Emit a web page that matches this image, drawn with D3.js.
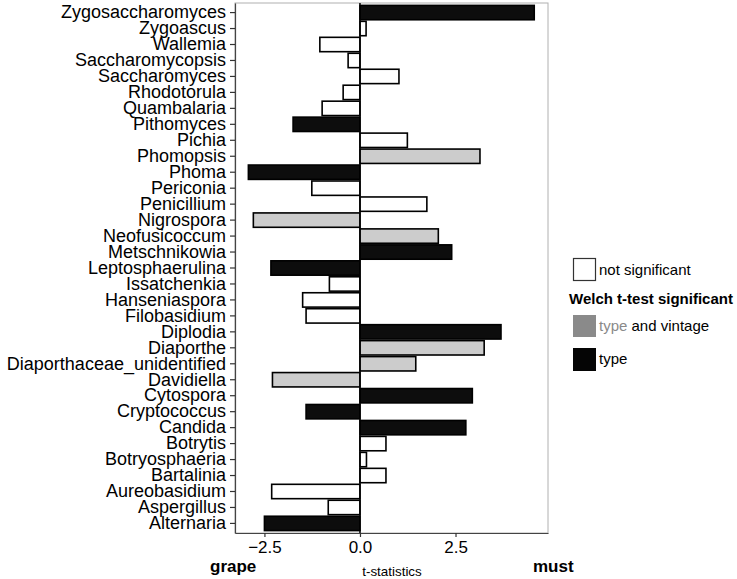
<!DOCTYPE html>
<html>
<head>
<meta charset="utf-8">
<script src="https://cdn.jsdelivr.net/npm/d3@7"></script>
<style>
  body { margin: 0; background: #fff; }
  text { font-family: "Liberation Sans", Arial, sans-serif; }
</style>
</head>
<body>
<div id="chart"></div>
<script>
// ---------------- data ----------------
var genera = ["Zygosaccharomyces", "Zygoascus", "Wallemia", "Saccharomycopsis", "Saccharomyces",
  "Rhodotorula", "Quambalaria", "Pithomyces", "Pichia", "Phomopsis", "Phoma", "Periconia",
  "Penicillium", "Nigrospora", "Neofusicoccum", "Metschnikowia", "Leptosphaerulina", "Issatchenkia",
  "Hanseniaspora", "Filobasidium", "Diplodia", "Diaporthe", "Diaporthaceae_unidentified", "Davidiella",
  "Cytospora", "Cryptococcus", "Candida", "Botrytis", "Botryosphaeria", "Bartalinia",
  "Aureobasidium", "Aspergillus", "Alternaria"];
var tstat = [4.56, 0.16, -1.05, -0.31, 1.02,
  -0.44, -0.99, -1.75, 1.24, 3.14, -2.92, -1.26,
  1.75, -2.79, 2.05, 2.40, -2.33, -0.80,
  -1.50, -1.41, 3.69, 3.25, 1.46, -2.29,
  2.94, -1.41, 2.77, 0.68, 0.17, 0.68,
  -2.31, -0.83, -2.50];
// ns = not significant, tv = type and vintage, t = type
var signif = ["t", "ns", "ns", "ns", "ns",
  "ns", "ns", "t", "ns", "tv", "t", "ns",
  "ns", "tv", "tv", "t", "t", "ns",
  "ns", "ns", "t", "tv", "tv", "tv",
  "t", "t", "t", "ns", "ns", "ns",
  "ns", "ns", "t"];
var xTicks = [-2.5, 0.0, 2.5];

var data = genera.map(function(g, i) { return {genus: g, t: tstat[i], sig: signif[i]}; });

// ---------------- layout ----------------
var W = 737, H = 579;
var panel = {left: 235, right: 548, top: 3, bottom: 533};

var svg = d3.select("#chart").append("svg").attr("width", W).attr("height", H);

var x = d3.scaleLinear().domain([-3.27, 4.92]).range([panel.left, panel.right]);
var y = d3.scaleBand().domain(genera).range([panel.top, panel.bottom])
  .paddingInner(0.1).paddingOuter(0.15);

var fillCol = {ns: "#ffffff", tv: "#cccccc", t: "#0d0d0d"};

// panel border (light)
svg.append("rect")
  .attr("x", panel.left).attr("y", panel.top)
  .attr("width", panel.right - panel.left).attr("height", panel.bottom - panel.top)
  .attr("fill", "none").attr("stroke", "#b0b0b0").attr("stroke-width", 1);

// bars
svg.selectAll("rect.bar").data(data).enter()
  .append("rect").attr("class", "bar")
  .attr("x", function(d) { return x(Math.min(0, d.t)); })
  .attr("y", function(d) { return y(d.genus); })
  .attr("width", function(d) { return Math.abs(x(d.t) - x(0)); })
  .attr("height", y.bandwidth())
  .attr("fill", function(d) { return fillCol[d.sig]; })
  .attr("stroke", "#000").attr("stroke-width", 1.6);

// zero line
svg.append("line")
  .attr("x1", x(0)).attr("x2", x(0))
  .attr("y1", panel.top).attr("y2", panel.bottom)
  .attr("stroke", "#000").attr("stroke-width", 1.5);

// axes
var yAxis = svg.append("g").attr("transform", "translate(" + panel.left + ",0)")
  .call(d3.axisLeft(y).tickSize(5).tickSizeOuter(0).tickPadding(4));
yAxis.select(".domain").attr("stroke", "#444").attr("stroke-width", 1.2);
yAxis.selectAll(".tick line").attr("stroke", "#333").attr("stroke-width", 1.2);
yAxis.selectAll("text").style("font-size", "18px").attr("fill", "#000")
  .style("font-family", "'Liberation Sans', Arial, sans-serif");

var xAxis = svg.append("g").attr("transform", "translate(0," + panel.bottom + ")")
  .call(d3.axisBottom(x).tickValues(xTicks).tickFormat(d3.format(".1f"))
    .tickSize(4).tickSizeOuter(0).tickPadding(4));
xAxis.select(".domain").attr("stroke", "#444").attr("stroke-width", 1.2);
xAxis.selectAll(".tick line").attr("stroke", "#333").attr("stroke-width", 1.2);
xAxis.selectAll("text").style("font-size", "17px").attr("fill", "#000")
  .style("font-family", "'Liberation Sans', Arial, sans-serif");

// axis titles
svg.append("text").attr("x", 210).attr("y", 572)
  .style("font-size", "17px").style("font-weight", "bold").text("grape");
svg.append("text").attr("x", 533).attr("y", 572)
  .style("font-size", "17px").style("font-weight", "bold").text("must");
svg.append("text").attr("x", 392).attr("y", 576).attr("text-anchor", "middle")
  .style("font-size", "13.4px").text("t-statistics");

// legend
var lg = svg.append("g");
lg.append("rect").attr("x", 573.5).attr("y", 258.5).attr("width", 22).attr("height", 22)
  .attr("fill", "#fff").attr("stroke", "#333").attr("stroke-width", 1.2);
lg.append("text").attr("x", 599).attr("y", 275).style("font-size", "15px").text("not significant");
lg.append("text").attr("x", 569).attr("y", 304).style("font-size", "15px")
  .style("font-weight", "bold").text("Welch t-test significant");
lg.append("rect").attr("x", 573).attr("y", 315).attr("width", 23).attr("height", 22)
  .attr("fill", "#8a8a8a");
var tv = lg.append("text").attr("x", 599).attr("y", 331).style("font-size", "15px");
tv.append("tspan").attr("fill", "#8a8a8a").text("type");
tv.append("tspan").attr("fill", "#000").text(" and vintage");
lg.append("rect").attr("x", 573).attr("y", 348).attr("width", 23).attr("height", 23)
  .attr("fill", "#050505");
lg.append("text").attr("x", 599).attr("y", 364).style("font-size", "15px").text("type");
</script>
</body>
</html>
